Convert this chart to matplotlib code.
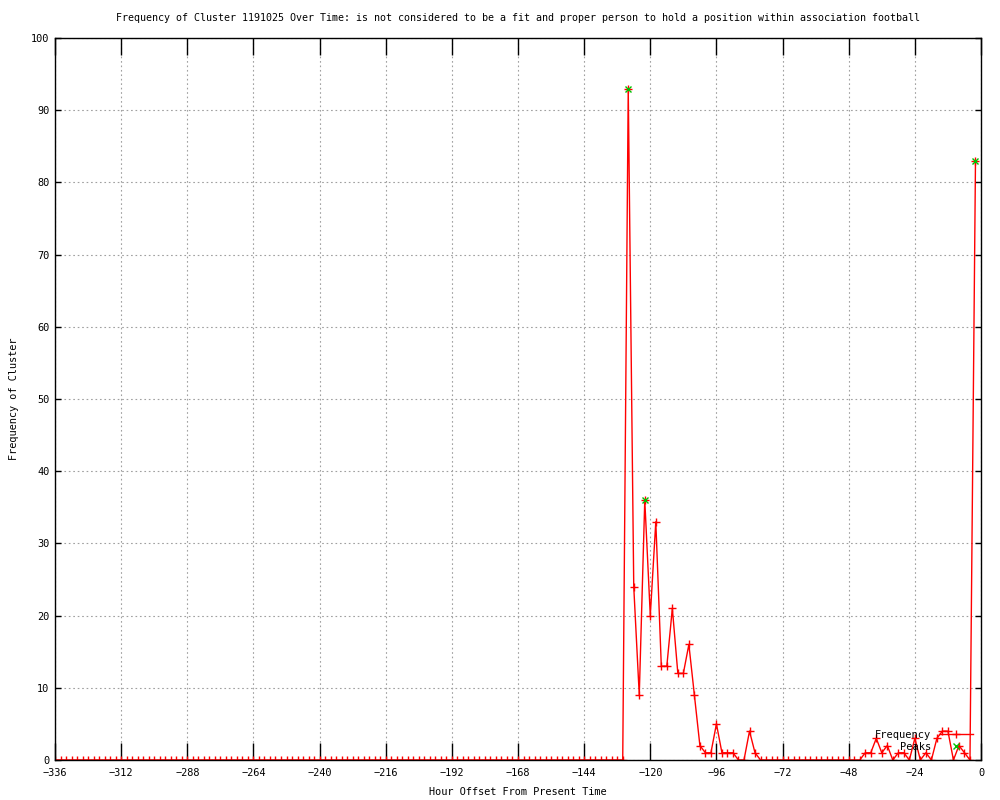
import numpy as np
import matplotlib
matplotlib.use('Agg')
import matplotlib.pyplot as plt

# hour offsets, one sample every 2 hours
hours = np.arange(-336, 0, 2)

freq = [
    # -336 .. -130
    0, 0, 0, 0, 0, 0, 0, 0, 0, 0, 0, 0, 0, 0, 0, 0, 0, 0, 0, 0,
    0, 0, 0, 0, 0, 0, 0, 0, 0, 0, 0, 0, 0, 0, 0, 0, 0, 0, 0, 0,
    0, 0, 0, 0, 0, 0, 0, 0, 0, 0, 0, 0, 0, 0, 0, 0, 0, 0, 0, 0,
    0, 0, 0, 0, 0, 0, 0, 0, 0, 0, 0, 0, 0, 0, 0, 0, 0, 0, 0, 0,
    0, 0, 0, 0, 0, 0, 0, 0, 0, 0, 0, 0, 0, 0, 0, 0, 0, 0, 0, 0,
    0, 0, 0, 0,
    # -128 .. -82
    93, 24, 9, 36, 20, 33, 13, 13, 21, 12, 12, 16, 9, 2, 1, 1, 5, 1, 1, 1,
    0, 0, 4, 1,
    # -80 .. -44
    0, 0, 0, 0, 0, 0, 0, 0, 0, 0, 0, 0, 0, 0, 0, 0, 0, 0, 0,
    # -42 .. -2
    1, 1, 3, 1, 2, 0, 1, 1, 0, 3, 0, 1, 0, 3, 4, 4, 0, 2, 1, 0, 83,
]

peak_hours = [-128, -122, -2]
peak_vals = [93, 36, 83]

xticks = list(range(-336, 1, 24))
yticks = list(range(0, 101, 10))

plt.rcParams['font.family'] = ['DejaVu Sans Mono']
plt.rcParams['font.size'] = 7.4

fig = plt.figure(figsize=(10, 8), dpi=100)
ax = fig.add_axes([0.055, 0.05, 0.926, 0.9025])

ax.plot(hours, freq, color='red', linewidth=1, marker='+', markersize=5.5,
        markeredgewidth=1, label='Frequency')
ax.plot(peak_hours, peak_vals, linestyle='none', color='#00c000', marker='x',
        markersize=5, markeredgewidth=1, label='Peaks')

ax.set_xlim(-336, 0)
ax.set_ylim(0, 100)
ax.set_xticks(xticks)
ax.set_yticks(yticks)
ax.tick_params(axis='x', direction='in', length=12, width=1, top=True, pad=6, labelsize=7.4)
ax.tick_params(axis='y', direction='in', length=4.5, width=1, right=True, pad=4, labelsize=7.4)
ax.grid(True, color='#a0a0a0', linestyle=(0, (1.5, 2.5)), linewidth=0.8)
ax.set_axisbelow(True)
for s in ax.spines.values():
    s.set_linewidth(1)
    s.set_color('black')

ax.set_title('Frequency of Cluster 1191025 Over Time: is not considered to be a fit and proper '
             'person to hold a position within association football', pad=12, fontsize=7.2)
ax.set_xlabel('Hour Offset From Present Time', labelpad=6, fontsize=7.4)
ax.set_ylabel('Frequency of Cluster', labelpad=9, fontsize=7.4)

ax.legend(loc='lower right', bbox_to_anchor=(1.0, 0.0), frameon=False, markerfirst=False,
          numpoints=1, handlelength=3.2, handletextpad=0.8, labelspacing=0.2, borderpad=0.3,
          fontsize=7.5)

fig.savefig('out.png', dpi=100)
